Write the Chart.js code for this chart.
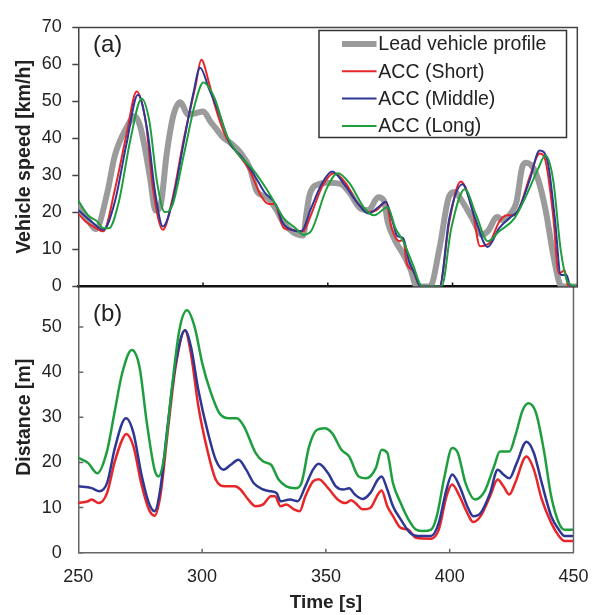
<!DOCTYPE html>
<html><head><meta charset="utf-8">
<script src="https://cdn.jsdelivr.net/npm/chart.js@4"></script>
<style>
html,body{margin:0;padding:0;background:#fff;}
#wrap{position:relative;width:602px;height:615px;overflow:hidden;}
canvas{position:absolute;left:0;top:0;}
</style></head><body>
<div id="wrap"><canvas id="cb" width="602" height="615"></canvas><canvas id="ca" width="602" height="615"></canvas></div>
<script>
// ---------- (a) Vehicle speed [km/h] ----------
const leadT = [250,253,257,261.5,264.5,266.5,269,272.7,274.7,276.7,278.7,281,283,285.4,288.1,290.8,294,297,300.1,303,305.5,308.1,310.8,314.8,318.8,321.5,325.5,329.5,332.2,336.2,340.2,341.3,342.6,346.3,350.2,355.5,358.6,363.2,366.3,370.2,372.5,374,377.1,380.2,383.3,385.6,391,394.8,398.7,401,403.3,407.9,411.8,414.1,417.9,420.3,423.3,425.6,428,429.5,433.4,437.2,440.3,442.8,444,450];
const leadV = [21.5,19,15.5,25,35,39,42.5,46,43.5,37.4,29.6,20.5,22,35.7,46.2,49.8,46.5,46.8,47.3,44.5,42.4,40.2,38.9,36.3,31.9,25.8,24.1,20.6,17.2,14.6,13.8,19,24.5,27.6,28,27.6,25.4,21,20.6,24.1,23.2,17.5,12.25,8.75,4.4,0,0,10.5,24.5,25.5,23.6,18.4,14,14.9,18.8,17.9,19.7,22.75,32.4,33.4,30.6,21,8.75,1,0,0];

const shortT = [250,253,256.5,260,264.6,269.3,273.4,277,280,283.9,287.7,292.4,297,299.3,302.4,304.7,309.3,313.9,318.6,323.2,326.3,328.6,332.4,335.5,340.1,343.2,347.8,352.5,357.1,361.7,366.3,369.4,373.3,375.6,378.7,380.2,381.7,384,387.1,394.8,398.7,403.3,407.9,411,414.8,418.7,421.7,424.8,427.2,431,434.9,437.2,440.3,442.6,444.9,446.4,450];
const shortV = [19.7,17.5,16,14.9,26,41,52.7,44.6,26.25,15.3,23.6,40.25,54.25,61.25,55,49,40.25,35.9,31.5,24.5,22.3,22.3,15.75,15.3,14.9,19.25,27.1,30.6,28,22.75,20.1,20.6,22.75,15.75,12.25,12.7,6.1,4.4,0,0,17.5,28.4,21,10.9,11.8,17.5,19.25,19.25,21.9,29.75,35.9,34.1,19.25,3.5,4.4,0,0];

const midT = [250,255.4,260,264.6,269.3,273.9,277.7,280.8,283.9,287.7,292.4,296.2,298.8,302.4,306.2,310.9,315.5,320.1,324.7,329.4,331.7,335.5,339.4,343.2,347.8,351.7,357.1,361.7,366.3,370.2,373.3,375.6,377.9,380.2,382.5,384.8,387.1,394.8,398.7,404,408.6,414.1,418.7,423.3,426.3,431,434.9,438,441,443.4,445.7,447.2,450];
const midV = [20.6,17.5,15.3,22.75,38.5,51.8,42,25.4,16.2,22.75,39.4,52.5,59.1,53.4,47.25,38.5,35,30.6,25.4,21.9,17.5,15.3,14.9,21,28,31.1,27.1,22.75,19.7,21.4,22.9,18.4,13.6,13.1,7,3.5,0,0,18.4,27.6,19.25,10.7,15.75,18.8,20.6,28.9,36.75,34.1,18.4,3.1,3.1,0,0];

const longT = [250,253.9,257.7,260,262.3,266.2,270.8,275.4,278.5,281.6,284.7,287.7,292.4,297,300.1,304.7,309.3,313.9,320.1,326.3,332.4,337.1,340.1,343.2,349.4,354,358.6,364.8,368.6,374,377.1,380.2,384,387.9,395.6,399.5,404.9,409.5,414.1,418.7,424.8,429.5,434.1,437.2,440.3,443.4,446.4,450];
const longV = [23.2,19.25,17.5,15.75,15.75,22.75,39.4,50.75,44.6,28,20.1,21.9,35.9,49.9,55.1,50.75,41.1,35.9,31.5,25.4,18.4,15.75,14,14.9,26.25,30.6,28,21,19.25,21.4,15.75,12.25,6.1,0,0,15.75,26.25,19.25,12.25,14.9,18.4,24.5,31.5,35.4,28.9,9.6,0.9,0];

// ---------- (b) Distance [m] ----------
const shortDT = [250,253.9,255.4,258.2,261.6,264.6,267.7,269.3,272.3,275.4,278.5,280.8,283.1,286.2,289.3,293.1,295.5,298.5,302.4,305.5,309.3,313.2,315.5,318.6,321.6,324.7,327.8,329.4,331.7,334,337.1,339.4,341.7,344.8,347.1,350.9,354.8,357.9,360.2,362.5,364.8,367.9,371,372.5,374.8,377.1,380.2,383.3,386.4,392.5,395.6,398.7,401,404,407.1,409.5,412.5,416.3,419.4,421.7,424.1,426.4,431,434,437.2,441,444.1,446.4,450];
const shortD = [11,11.4,11.8,11,13.2,19.9,25,26.3,23.5,15.4,9.6,8.2,12.5,27.2,41.2,49.3,44.1,32.4,22.1,16.2,14.7,14.7,14,11.8,10.3,10.7,12.5,12.5,10.3,10.7,9.6,9.2,12.5,15.8,16.3,14.3,11.8,11,11.6,10.7,9.6,9.9,12.9,13.8,10.3,8.1,5.5,5.1,3.3,3.1,5.1,12.5,15.1,12.5,8.8,6.8,8.1,12.5,16.2,14.7,12.9,15.4,21.3,18.4,11.8,6.6,3.7,2.6,2.6];

const midDT = [250,255.4,258.5,261.6,264.6,267.7,269.3,272.3,275.4,278.5,280.8,283.1,286.2,289.3,293.1,295.5,298.5,302.4,305.5,308.6,311.6,314.7,317.8,320.9,324.7,327.8,330.1,331.7,335.5,338.6,341.7,344.8,347.1,350.9,354,357.1,359.4,361.7,364.8,367.9,371,372.5,374.8,377.1,380.2,384,387.1,392.5,395.6,398.7,401,404,407.1,409.5,412.5,416.3,419.4,421.7,424.1,427.1,431,434,437.2,441,444.1,446.4,450];
const midD = [14.7,14.3,13.6,15.4,22.8,28.7,29.8,26.5,17.6,11,9.2,14,28.7,41.9,49.3,45.6,36,26.5,20.6,18.4,19.5,20.6,18.4,15.4,14,13.6,13.2,11.4,11.8,11.4,14.7,18.4,19.7,17.6,14.7,14,14.3,12.9,11.9,13.2,16.2,16.9,14,10.3,7.4,4.4,3.7,3.7,6.6,14,17.3,14.7,10.3,8.1,8.8,13.2,18.4,17.3,16.5,19.9,24.6,22.1,15.4,8.1,5.1,3.7,3.7];

const longDT = [250,253.9,257.7,261.6,264.6,267.7,271.6,274.7,277.7,280.8,282.4,284.7,287.7,290.8,293.9,297,300.1,303.2,307,310.9,314,317,321.6,324.7,327.8,330.9,334,337.8,340.1,343.2,346.3,349.4,352.5,356.3,359.4,363.2,366.3,370.2,372.5,374.8,377.1,380.2,383.3,386.4,389.4,392.5,394.8,397.9,401,403.3,406.4,410.2,414.1,417.9,420.3,424.1,426.4,429.5,431.8,434.9,438,441,444.1,446.4,450];
const longD = [21,19.9,17.6,22.5,31,39.7,44.9,41.2,28.7,18.4,16.9,21.3,36,49.3,53.7,50,41.9,36,30.9,29.8,29.8,27.9,22.1,20.2,19.5,16.2,14.7,14.3,15.4,23.5,27.2,27.6,26.5,22.8,21.3,16.9,16.5,18.8,22.8,22.1,15.4,11,7.4,5.1,4.8,5.1,8.1,16.9,23.2,22.1,15.4,11.8,13.6,19.1,22.4,22.4,25.7,31.6,33.1,30.9,22.8,12.5,6.6,5.1,5.1];

const seriesLabels = ['Lead vehicle profile', 'ACC (Short)', 'ACC (Middle)', 'ACC (Long)'];
const xTicks = [250, 300, 350, 400, 450];

const FONT = "'Liberation Sans', Arial, Helvetica, sans-serif";
const GRAY = '#9b9b9b', RED = '#e8262a', BLUE = '#2e3794', GREEN = '#1f9e3f';
Chart.defaults.font.family = FONT;
Chart.defaults.color = '#222';

const pts = (T, V) => T.map((t, i) => ({x: t, y: V[i]}));

function xAxis(extra) {
  return Object.assign({
    type: 'linear', min: 250, max: 450,
    grid: {display: false, drawTicks: false},
    afterBuildTicks(s) { s.ticks = xTicks.map(v => ({value: v})); }
  }, extra);
}

// ---------- bottom chart (b) ----------
const bottomDecor = {
  id: 'bottomDecor',
  afterDraw(chart) {
    const {ctx, chartArea: a, scales} = chart;
    ctx.save();
    ctx.strokeStyle = '#666'; ctx.lineWidth = 1.5;
    ctx.beginPath();
    ctx.moveTo(a.right, a.top); ctx.lineTo(a.right, a.bottom);
    scales.y.ticks.forEach(t => { const p = scales.y.getPixelForValue(t.value); ctx.moveTo(a.left, p); ctx.lineTo(a.left + 5, p); });
    [300, 350, 400].forEach(v => { const p = scales.x.getPixelForValue(v); ctx.moveTo(p, a.bottom); ctx.lineTo(p, a.bottom - 4); });
    ctx.stroke();
    ctx.fillStyle = '#222'; ctx.font = '24px ' + FONT; ctx.textBaseline = 'middle'; ctx.textAlign = 'left';
    ctx.fillText('(b)', 93, 314);
    ctx.restore();
  }
};

new Chart(document.getElementById('cb'), {
  type: 'line',
  data: { datasets: [
    {label: seriesLabels[1], data: pts(shortDT, shortD), borderColor: RED, borderWidth: 2.5, order: 3},
    {label: seriesLabels[2], data: pts(midDT, midD), borderColor: BLUE, borderWidth: 2.5, order: 2},
    {label: seriesLabels[3], data: pts(longDT, longD), borderColor: GREEN, borderWidth: 2.5, order: 1}
  ]},
  options: {
    responsive: false, animation: false,
    layout: {padding: {left: 0, right: 24.7, top: 281.9, bottom: 0}},
    elements: {point: {radius: 0}, line: {cubicInterpolationMode: 'monotone', borderJoinStyle: 'round', borderCapStyle: 'round'}},
    plugins: {legend: {display: false}, tooltip: {enabled: false}},
    scales: {
      x: xAxis({
        afterFit(s) { s.height = 62.3; },
        border: {display: true, color: '#666', width: 1.5},
        ticks: {padding: 13.5, font: {size: 18}, color: '#222'},
        title: {display: true, text: 'Time [s]', font: {size: 19, weight: 'bold'}, color: '#222', padding: {top: 0, bottom: 0.6}}
      }),
      y: {
        min: 0, max: 60,
        afterFit(s) { s.width = 78.3; },
        afterBuildTicks(s) { s.ticks = s.ticks.filter(t => t.value <= 50); },
        grid: {display: false, drawTicks: false},
        border: {display: true, color: '#666', width: 1.5},
        ticks: {stepSize: 10, padding: 16.6, font: {size: 18}, color: '#222'},
        title: {display: true, text: 'Distance [m]', font: {size: 19.5, weight: 'bold'}, color: '#222', padding: {top: 12.5, bottom: 0}}
      }
    }
  },
  plugins: [bottomDecor]
});

// ---------- top chart (a) ----------
const topDecor = {
  id: 'topDecor',
  beforeDraw(chart) {
    const ctx = chart.ctx;
    ctx.save(); ctx.fillStyle = '#fff'; ctx.fillRect(0, 0, chart.width, chart.chartArea.bottom); ctx.restore();
  },
  afterDraw(chart) {
    const {ctx, chartArea: a, scales} = chart;
    ctx.save();
    ctx.strokeStyle = '#444'; ctx.lineWidth = 1.5;
    ctx.beginPath();
    ctx.moveTo(a.left, a.top); ctx.lineTo(a.right, a.top); ctx.lineTo(a.right, a.bottom);
    scales.y.ticks.forEach(t => { const p = scales.y.getPixelForValue(t.value); ctx.moveTo(a.left - 6, p); ctx.lineTo(a.left, p); });
    ctx.stroke();
    ctx.strokeStyle = '#111'; ctx.lineWidth = 1.5;
    ctx.beginPath();
    [300, 350, 400].forEach(v => { const p = scales.x.getPixelForValue(v); ctx.moveTo(p, a.bottom); ctx.lineTo(p, a.bottom - 4); });
    ctx.stroke();
    // panel label
    ctx.fillStyle = '#222'; ctx.font = '24px ' + FONT; ctx.textBaseline = 'middle'; ctx.textAlign = 'left';
    ctx.fillText('(a)', 93, 45);
    // legend
    const L = {x: 319, y: 30.5, w: 247.5, h: 107};
    ctx.fillStyle = '#fff'; ctx.fillRect(L.x, L.y, L.w, L.h);
    ctx.strokeStyle = '#333'; ctx.lineWidth = 1.5; ctx.strokeRect(L.x, L.y, L.w, L.h);
    ctx.font = '19.5px ' + FONT; ctx.fillStyle = '#222';
    chart.data.datasets.forEach((ds, i) => {
      const cy = 44 + i * 27.3;
      ctx.strokeStyle = ds.borderColor; ctx.lineWidth = ds.borderWidth; ctx.lineCap = 'butt';
      ctx.beginPath(); ctx.moveTo(342, cy); ctx.lineTo(376.5, cy); ctx.stroke();
      ctx.fillText(ds.label, 378.3, cy + 1);
    });
    ctx.restore();
  }
};

new Chart(document.getElementById('ca'), {
  type: 'line',
  data: { datasets: [
    {label: seriesLabels[0], data: pts(leadT, leadV), borderColor: GRAY, borderWidth: 6, order: 4},
    {label: seriesLabels[1], data: pts(shortT, shortV), borderColor: RED, borderWidth: 2, order: 3},
    {label: seriesLabels[2], data: pts(midT, midV), borderColor: BLUE, borderWidth: 2, order: 2},
    {label: seriesLabels[3], data: pts(longT, longV), borderColor: GREEN, borderWidth: 2, order: 1}
  ]},
  options: {
    responsive: false, animation: false,
    layout: {padding: {left: 0, right: 24.7, top: 19, bottom: 0}},
    elements: {point: {radius: 0}, line: {cubicInterpolationMode: 'monotone', borderJoinStyle: 'round', borderCapStyle: 'round'}},
    plugins: {legend: {display: false}, tooltip: {enabled: false}},
    scales: {
      x: xAxis({
        afterFit(s) { s.height = 328.5; },
        border: {display: true, color: '#111', width: 2.5},
        ticks: {display: false}
      }),
      y: {
        min: 0, max: 70,
        afterFit(s) { s.width = 78.3; },
        grid: {display: false, drawTicks: false},
        border: {display: true, color: '#444', width: 1.5},
        ticks: {stepSize: 10, padding: 16.6, font: {size: 18}, color: '#222'},
        title: {display: true, text: 'Vehicle speed [km/h]', font: {size: 19.6, weight: 'bold'}, color: '#222', padding: {top: 12.5, bottom: 0}}
      }
    }
  },
  plugins: [topDecor]
});
</script>
</body></html>
